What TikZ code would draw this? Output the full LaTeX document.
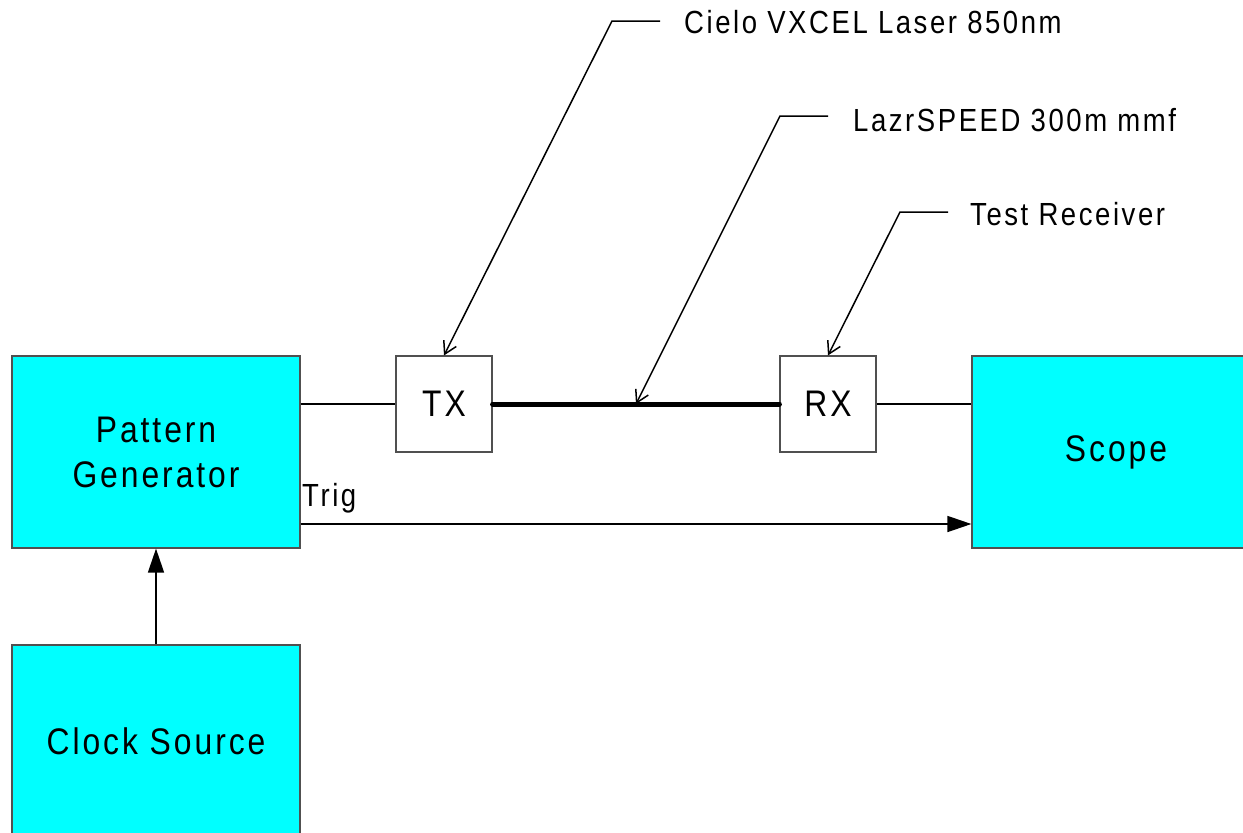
\documentclass[tikz,border=0pt]{standalone}
\usepackage{fontspec}
\setmainfont{Liberation Sans}[FakeStretch=0.86, LetterSpace=8]
\usetikzlibrary{arrows.meta}
\definecolor{boxcyan}{RGB}{0,255,255}
\definecolor{boxedge}{RGB}{80,80,80}
\tikzset{
  bigbox/.style={draw=boxedge, line width=1.2pt, fill=boxcyan, minimum width=288pt, minimum height=192pt, inner sep=0pt, align=center, font=\fontsize{37}{45}\selectfont},
  smallbox/.style={draw=boxedge, line width=1.2pt, fill=white, minimum width=96pt, minimum height=96pt, inner sep=0pt, font=\fontsize{37}{45}\selectfont},
  wire/.style={line width=1.5pt, black},
  fibre/.style={line width=5pt, black, line cap=round},
  sig/.style={line width=1.5pt, black, -{Triangle[length=24pt,width=16pt]}},
  callout/.style={line width=1.5pt, black, -{Straight Barb[length=12pt,width=14pt]}},
  lbl/.style={inner sep=0pt, anchor=base west, font=\fontsize{32}{38}\selectfont}
}
\begin{document}
\begin{tikzpicture}[x=1pt,y=-1pt]
\useasboundingbox (0,0) rectangle (1243,833);
\clip (0,0) rectangle (1243,833);
\fill[white] (0,0) rectangle (1243,833);
\node[bigbox] (pg) at (156,452) {Pattern\\Generator};
\node[bigbox] (cs) at (156,741) {Clock Source};
\node[bigbox] (scope) at (1116,452) {\raisebox{-3pt}{Scope}};
\node[smallbox] (tx) at (444,404) {TX};
\node[smallbox] (rx) at (828,404) {RX};
\draw[wire] (pg.east |- tx.west) -- (tx.west);
\draw[fibre] (tx.east) -- (rx.west);
\draw[wire] (rx.east) -- (scope.west |- rx.east);
\draw[sig] ([yshift=-72pt]pg.east) -- ([yshift=-72pt]scope.west);
\node[lbl] (trig) at (302,506) {Trig};
\draw[sig] (cs.north) -- (pg.south);
\node[lbl] (l1) at (684,33) {Cielo VXCEL Laser 850nm};
\node[lbl] (l2) at (853,131) {LazrSPEED 300m mmf};
\node[lbl] (l3) at (970,225) {Test Receiver};
\coordinate (k1) at (612,21);
\coordinate (k2) at (780,116);
\coordinate (k3) at (900,212);
\coordinate (f) at (636,404);
\draw[callout] ([xshift=-24pt]l1.west |- k1) -- (k1) -- (tx.north);
\draw[callout] ([xshift=-25pt]l2.west |- k2) -- (k2) -- (f);
\draw[callout] ([xshift=-22pt]l3.west |- k3) -- (k3) -- (rx.north);
\end{tikzpicture}
\end{document}
